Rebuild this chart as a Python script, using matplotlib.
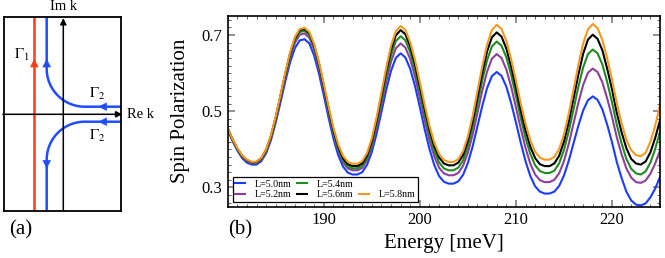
import numpy as np
import matplotlib
matplotlib.use("Agg")
import matplotlib.pyplot as plt
from matplotlib.ticker import MultipleLocator, FixedLocator
from matplotlib.lines import Line2D

plt.rcParams['font.family'] = ['Liberation Serif', 'DejaVu Serif']
plt.rcParams['mathtext.fontset'] = 'stix'

# ---------------- data (panel b) ----------------
energy = np.linspace(180, 225, 91)   # meV, 0.5 meV grid

sp_L50 = [0.452, 0.422, 0.397, 0.377, 0.365, 0.360,
          0.360, 0.369, 0.390, 0.424, 0.471, 0.524, 0.579, 0.629, 0.666, 0.686, 0.689,
          0.678, 0.646, 0.599, 0.542, 0.483, 0.429, 0.385, 0.355, 0.339, 0.334,
          0.334, 0.340, 0.359, 0.393, 0.441, 0.498, 0.556, 0.606, 0.640, 0.652,
          0.641, 0.611, 0.566, 0.511, 0.453, 0.401, 0.359, 0.330, 0.315, 0.310,
          0.310, 0.316, 0.333, 0.364, 0.408, 0.461, 0.514, 0.561, 0.592, 0.603,
          0.593, 0.565, 0.522, 0.471, 0.418, 0.369, 0.330, 0.303, 0.289, 0.284,
          0.284, 0.289, 0.304, 0.331, 0.370, 0.416, 0.462, 0.502, 0.529, 0.539,
          0.530, 0.505, 0.465, 0.419, 0.367, 0.325, 0.289, 0.266, 0.255, 0.253,
          0.258, 0.274, 0.297, 0.327]
sp_L52 = [0.454, 0.425, 0.400, 0.380, 0.369, 0.363,
          0.364, 0.373, 0.395, 0.430, 0.478, 0.534, 0.590, 0.642, 0.680, 0.701, 0.704,
          0.693, 0.661, 0.613, 0.556, 0.495, 0.441, 0.397, 0.366, 0.350, 0.345,
          0.345, 0.351, 0.371, 0.407, 0.457, 0.517, 0.577, 0.630, 0.665, 0.678,
          0.667, 0.637, 0.591, 0.535, 0.477, 0.424, 0.382, 0.352, 0.337, 0.332,
          0.332, 0.338, 0.357, 0.391, 0.439, 0.496, 0.554, 0.604, 0.638, 0.650,
          0.640, 0.610, 0.565, 0.511, 0.455, 0.404, 0.362, 0.334, 0.319, 0.314,
          0.314, 0.320, 0.337, 0.369, 0.414, 0.468, 0.522, 0.569, 0.601, 0.612,
          0.603, 0.576, 0.534, 0.486, 0.432, 0.387, 0.350, 0.326, 0.314, 0.312,
          0.318, 0.336, 0.363, 0.397]
sp_L54 = [0.455, 0.426, 0.401, 0.382, 0.371, 0.365,
          0.366, 0.375, 0.397, 0.433, 0.482, 0.538, 0.596, 0.648, 0.687, 0.708, 0.711,
          0.700, 0.668, 0.620, 0.562, 0.501, 0.446, 0.402, 0.371, 0.355, 0.350,
          0.350, 0.357, 0.377, 0.414, 0.467, 0.529, 0.592, 0.647, 0.684, 0.697,
          0.686, 0.655, 0.608, 0.552, 0.493, 0.439, 0.396, 0.366, 0.350, 0.345,
          0.345, 0.352, 0.371, 0.408, 0.459, 0.519, 0.581, 0.634, 0.670, 0.683,
          0.672, 0.642, 0.596, 0.541, 0.483, 0.430, 0.388, 0.358, 0.343, 0.338,
          0.338, 0.344, 0.363, 0.398, 0.447, 0.505, 0.564, 0.615, 0.650, 0.662,
          0.652, 0.623, 0.577, 0.524, 0.465, 0.416, 0.375, 0.349, 0.337, 0.334,
          0.342, 0.365, 0.401, 0.446]
sp_L56 = [0.455, 0.426, 0.402, 0.383, 0.372, 0.366,
          0.367, 0.377, 0.399, 0.435, 0.484, 0.541, 0.599, 0.652, 0.692, 0.713, 0.716,
          0.705, 0.673, 0.625, 0.567, 0.507, 0.452, 0.408, 0.377, 0.361, 0.356,
          0.356, 0.363, 0.384, 0.422, 0.476, 0.540, 0.605, 0.662, 0.699, 0.713,
          0.702, 0.670, 0.623, 0.566, 0.507, 0.453, 0.409, 0.379, 0.363, 0.358,
          0.358, 0.365, 0.385, 0.423, 0.475, 0.538, 0.601, 0.657, 0.694, 0.707,
          0.696, 0.665, 0.618, 0.562, 0.503, 0.450, 0.407, 0.377, 0.361, 0.356,
          0.356, 0.363, 0.383, 0.420, 0.472, 0.534, 0.596, 0.651, 0.688, 0.701,
          0.690, 0.660, 0.612, 0.558, 0.496, 0.445, 0.403, 0.375, 0.363, 0.360,
          0.368, 0.392, 0.430, 0.476]
sp_L58 = [0.456, 0.427, 0.403, 0.384, 0.373, 0.367,
          0.368, 0.378, 0.400, 0.437, 0.486, 0.543, 0.602, 0.655, 0.695, 0.716, 0.719,
          0.708, 0.676, 0.629, 0.572, 0.512, 0.457, 0.413, 0.383, 0.367, 0.362,
          0.362, 0.369, 0.390, 0.429, 0.484, 0.549, 0.614, 0.672, 0.710, 0.724,
          0.713, 0.681, 0.634, 0.577, 0.517, 0.462, 0.418, 0.388, 0.372, 0.367,
          0.367, 0.374, 0.395, 0.434, 0.488, 0.553, 0.618, 0.675, 0.713, 0.727,
          0.716, 0.685, 0.637, 0.581, 0.521, 0.468, 0.424, 0.394, 0.378, 0.373,
          0.373, 0.380, 0.401, 0.439, 0.493, 0.557, 0.621, 0.678, 0.715, 0.729,
          0.718, 0.687, 0.639, 0.583, 0.521, 0.469, 0.425, 0.398, 0.385, 0.382,
          0.391, 0.420, 0.462, 0.516]

series_labels = ["L=5.0nm", "L=5.2nm", "L=5.4nm", "L=5.6nm", "L=5.8nm"]
series_values = [sp_L50, sp_L52, sp_L54, sp_L56, sp_L58]
series_colors = ["#1a3cff", "#8e3f9c", "#1f8c1f", "#000000", "#f39a1e"]

x_ticks = [190, 200, 210, 220]
y_ticks = [0.3, 0.5, 0.7]
y_tick_labels = ["0.3", "0.5", "0.7"]

# ---------------- figure ----------------
W, H = 665, 258
fig = plt.figure(figsize=(W / 100, H / 100), dpi=100)

# ---------- panel (a): contour schematic ----------
axa = fig.add_axes([4.3 / W, (H - 210.7) / H, 116.7 / W, 194 / H])
axa.set_xlim(0, 116.7)
axa.set_ylim(0, 194)
axa.set_xticks([])
axa.set_yticks([])
for s in axa.spines.values():
    s.set_linewidth(1.3)
    s.set_color("black")

red = "#ff3a1a"
blu = "#1f4dff"
x_im, y_re = 59.0, 96.4
x_red, x_blue = 30.0, 42.4
y_up, y_dn = 104.0, 89.0
R_bend = 38.0

arrow_kw = dict(arrowstyle='-|>', mutation_scale=9, shrinkA=0, shrinkB=0)
# axes of the complex plane
axa.annotate('', xy=(x_im, 192.6), xytext=(x_im, 0), annotation_clip=False,
             arrowprops=dict(arrow_kw, color='black', lw=1.1))
axa.annotate('', xy=(118.0, y_re), xytext=(-1.5, y_re), annotation_clip=False,
             arrowprops=dict(arrow_kw, color='black', lw=1.1))
# contour Gamma_1
axa.plot([x_red, x_red], [0, 194], color=red, lw=1.8, solid_capstyle='butt')
# contours Gamma_2: vertical line, quarter-circle bend, horizontal line
t = np.linspace(np.pi, 1.5 * np.pi, 60)
arc_x = x_blue + R_bend + R_bend * np.cos(t)
arc_y = R_bend + R_bend * np.sin(t)          # 0 .. R above the horizontal
up_x = np.concatenate([[x_blue], arc_x, [116.7]])
up_y = np.concatenate([[194 - y_up], arc_y, [0]])
axa.plot(up_x, y_up + up_y, color=blu, lw=1.8, solid_capstyle='butt')
axa.plot(up_x, y_dn - up_y, color=blu, lw=1.8, solid_capstyle='butt')


# direction arrows
def head(x0, y0, x1, y1, c):
    axa.annotate('', xy=(x1, y1), xytext=(x0, y0),
                 arrowprops=dict(arrowstyle='-|>', mutation_scale=15, color=c,
                                 lw=0.1, shrinkA=0, shrinkB=0))


head(x_red, 140, x_red, 152, red)
head(x_blue, 140, x_blue, 152, blu)
head(x_blue, 54, x_blue, 42, blu)
head(106, y_up, 94, y_up, blu)
head(106, y_dn, 94, y_dn, blu)

axa.text(59.7, 203.7, "Im k", ha='center', va='center', fontsize=10.5, clip_on=False)
axa.text(122.5, 96.4, "Re k", ha='left', va='center', fontsize=10.5, clip_on=False)
axa.text(17.5, 155.5, r"$\Gamma_1$", ha='center', va='center', fontsize=11)
axa.text(93.0, 116.5, r"$\Gamma_2$", ha='center', va='center', fontsize=11)
axa.text(93.0, 74.5, r"$\Gamma_2$", ha='center', va='center', fontsize=11)

fig.text(20.5 / W, 1 - 230 / H, "(a)", ha='center', va='center', fontsize=15)

# ---------- panel (b): spin polarization ----------
axb = fig.add_axes([227.7 / W, (H - 206.5) / H, (660 - 227.7) / W, (206.5 - 16) / H])
for lab, vals, col in zip(series_labels, series_values, series_colors):
    axb.plot(energy, vals, color=col, lw=1.5, label=lab)

axb.set_xlim(180, 225)
axb.set_ylim(0.25, 0.75)
axb.xaxis.set_major_locator(FixedLocator(x_ticks))
axb.xaxis.set_minor_locator(MultipleLocator(1))
axb.yaxis.set_major_locator(FixedLocator(y_ticks))
axb.yaxis.set_minor_locator(MultipleLocator(0.02))
axb.set_yticklabels(y_tick_labels)
axb.tick_params(which='both', direction='in', top=True, right=True)
axb.tick_params(which='major', length=5, width=1.1, color='0.45', labelsize=12, pad=4)
axb.tick_params(which='minor', length=2.5, width=0.6, color='0.25')
for s in axb.spines.values():
    s.set_linewidth(1.2)
axb.set_xlabel("Energy [meV]", fontsize=15, labelpad=4)
axb.set_ylabel("Spin Polarization", fontsize=15, labelpad=8)

fig.text(240 / W, 1 - 230 / H, "(b)", ha='center', va='center', fontsize=15)

# legend: 3 columns, L=5.8nm sits in the second row of the third column
h = {l.get_label(): l for l in axb.get_lines()}
blank = Line2D([], [], color='none')
handles = [h["L=5.0nm"], h["L=5.2nm"], h["L=5.4nm"], h["L=5.6nm"], blank, h["L=5.8nm"]]
labels = ["L=5.0nm", "L=5.2nm", "L=5.4nm", "L=5.6nm", "", "L=5.8nm"]
leg = axb.legend(handles, labels, ncol=3, loc='lower left',
                 bbox_to_anchor=(232.7 / W, (H - 201.7) / H), bbox_transform=fig.transFigure,
                 fontsize=7.2, frameon=True, fancybox=False, framealpha=1,
                 edgecolor='black', borderpad=0.25, borderaxespad=0,
                 handlelength=1.0, handletextpad=1.0, columnspacing=0.5,
                 labelspacing=0.15)
leg.get_frame().set_linewidth(0.9)

fig.savefig("out.png", dpi=100)
